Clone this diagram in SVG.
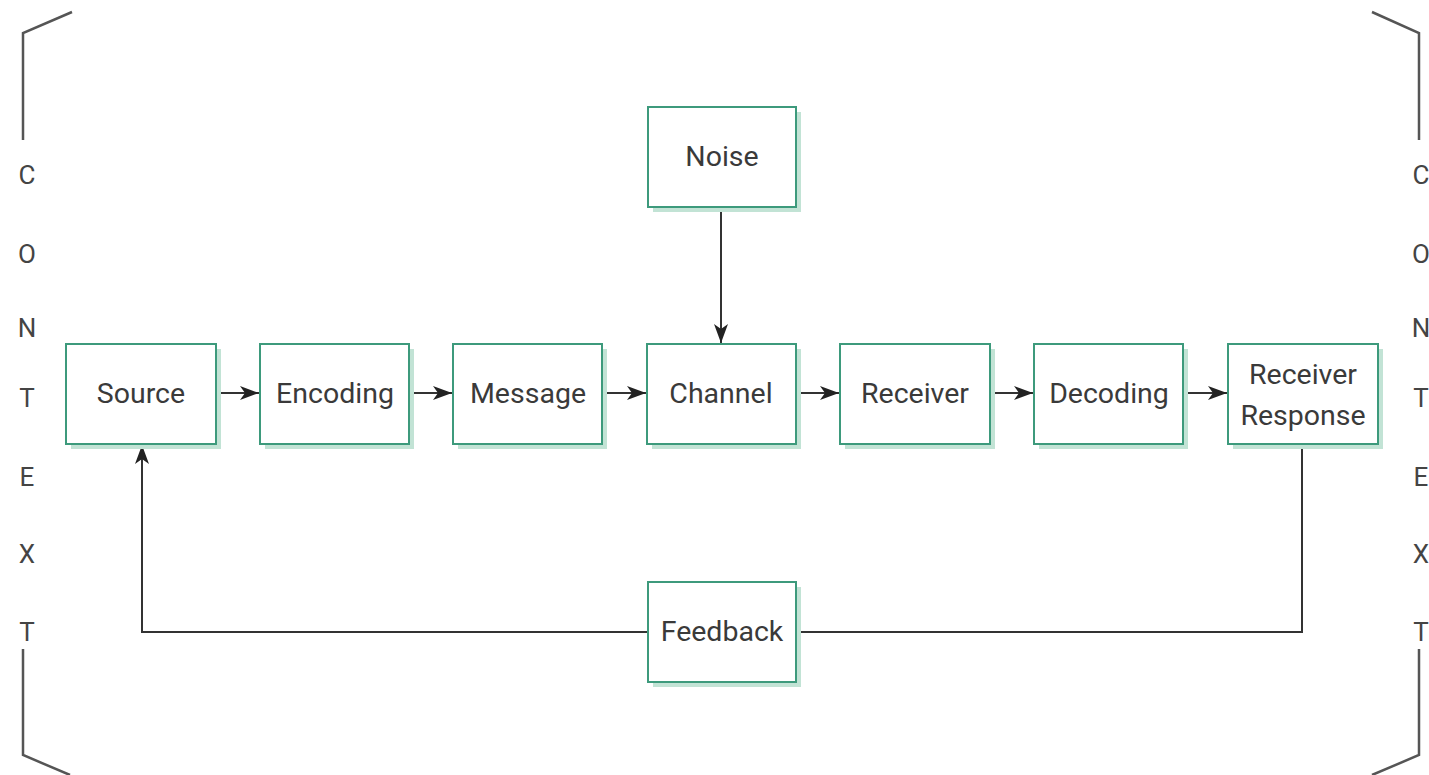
<svg xmlns="http://www.w3.org/2000/svg" width="1429" height="775" viewBox="0 0 1429 775">
<style>
.sh{fill:#c2e3d5;stroke:none}
.bx{fill:#fff;stroke:#3d9a7c;stroke-width:2}
.t{font-family:Roboto,"Liberation Sans",sans-serif;font-size:28.5px;fill:#3a3a3a;text-anchor:middle}
.c{font-family:Roboto,"Liberation Sans",sans-serif;font-size:26px;fill:#444;text-anchor:middle}
.ln{fill:none;stroke:#333;stroke-width:2}
.br{fill:none;stroke:#555;stroke-width:2.5}
</style>
<defs>
<marker id="ah" markerWidth="19" markerHeight="14" viewBox="0 0 19 14" refX="19" refY="7" orient="auto" markerUnits="userSpaceOnUse">
<path d="M0,0 L19,7 L0,14 L5,7 Z" fill="#222"/>
</marker>
</defs>
<g id="context">
<path class="br" d="M72,12 L23,33 L23,140"/>
<path class="br" d="M23,649 L23,755 L70,775"/>
<path class="br" d="M1372,12 L1419,33 L1419,140"/>
<path class="br" d="M1419,649 L1419,755 L1372,775"/>
<g class="c">
<text x="27" y="184">C</text><text x="27" y="263">O</text><text x="27" y="337">N</text><text x="27" y="407">T</text><text x="27" y="486">E</text><text x="27" y="563">X</text><text x="27" y="641">T</text>
<text x="1421" y="184">C</text><text x="1421" y="263">O</text><text x="1421" y="337">N</text><text x="1421" y="407">T</text><text x="1421" y="486">E</text><text x="1421" y="563">X</text><text x="1421" y="641">T</text>
</g>
</g>
<g id="connectors">
<line class="ln" x1="216" y1="393" x2="259" y2="393" marker-end="url(#ah)"/>
<line class="ln" x1="409" y1="393" x2="452" y2="393" marker-end="url(#ah)"/>
<line class="ln" x1="602" y1="393" x2="646" y2="393" marker-end="url(#ah)"/>
<line class="ln" x1="796" y1="393" x2="839" y2="393" marker-end="url(#ah)"/>
<line class="ln" x1="990" y1="393" x2="1033" y2="393" marker-end="url(#ah)"/>
<line class="ln" x1="1183" y1="393" x2="1227" y2="393" marker-end="url(#ah)"/>
<line class="ln" x1="721" y1="207" x2="721" y2="343" marker-end="url(#ah)"/>
<polyline class="ln" points="1302,444 1302,632 796,632"/>
<polyline class="ln" points="648,632 142,632 142,445" marker-end="url(#ah)"/>
</g>
<g id="source"><rect class="sh" x="71" y="349" width="150" height="100"/><rect class="bx" x="66" y="344" width="150" height="100"/><text class="t" x="141" y="403">Source</text></g>
<g id="encoding"><rect class="sh" x="265" y="349" width="149" height="100"/><rect class="bx" x="260" y="344" width="149" height="100"/><text class="t" x="335" y="403">Encoding</text></g>
<g id="message"><rect class="sh" x="458" y="349" width="149" height="100"/><rect class="bx" x="453" y="344" width="149" height="100"/><text class="t" x="528" y="403">Message</text></g>
<g id="channel"><rect class="sh" x="652" y="349" width="149" height="100"/><rect class="bx" x="647" y="344" width="149" height="100"/><text class="t" x="721" y="403">Channel</text></g>
<g id="receiver"><rect class="sh" x="845" y="349" width="150" height="100"/><rect class="bx" x="840" y="344" width="150" height="100"/><text class="t" x="915" y="403">Receiver</text></g>
<g id="decoding"><rect class="sh" x="1039" y="349" width="149" height="100"/><rect class="bx" x="1034" y="344" width="149" height="100"/><text class="t" x="1109" y="403">Decoding</text></g>
<g id="receiver-response"><rect class="sh" x="1233" y="349" width="150" height="100"/><rect class="bx" x="1228" y="344" width="150" height="100"/><text class="t" x="1303" y="384">Receiver</text><text class="t" x="1303" y="425">Response</text></g>
<g id="noise"><rect class="sh" x="653" y="112" width="148" height="100"/><rect class="bx" x="648" y="107" width="148" height="100"/><text class="t" x="722" y="166">Noise</text></g>
<g id="feedback"><rect class="sh" x="653" y="587" width="148" height="100"/><rect class="bx" x="648" y="582" width="148" height="100"/><text class="t" x="722" y="641">Feedback</text></g>
</svg>
